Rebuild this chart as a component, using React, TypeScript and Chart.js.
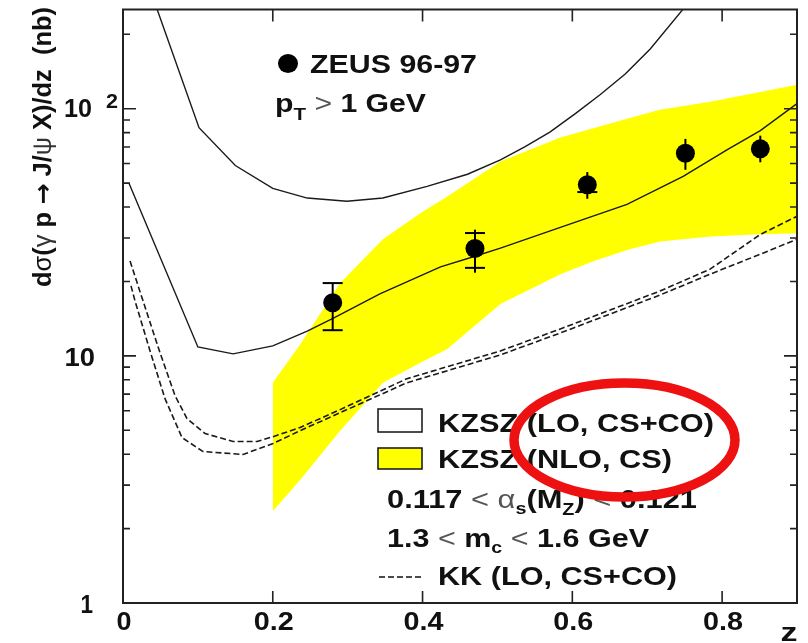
import React, { useEffect, useRef } from 'react';
import { Chart, registerables } from 'chart.js';
Chart.register(...registerables);

// ZEUS 96-97 data points
const zeusZ = [0.28, 0.47, 0.62, 0.751, 0.851];
const zeusXsec = [16.4, 27.2, 49.2, 66.0, 68.8];
const zeusErrUp = [19.7, 32.4, 55.4, 75.5, 77.8];
const zeusErrDown = [12.6, 21.7, 43.2, 56.6, 60.7];
const zeusCapUp: (number | null)[] = [19.7, 31.4, null, null, null];
const zeusCapDown: (number | null)[] = [12.7, 22.7, 46.0, null, null];

// KZSZ (LO, CS+CO) upper and lower curves
const kzszLoUpZ = [0.03, 0.046, 0.1015, 0.15, 0.2, 0.246, 0.299, 0.347, 0.406, 0.46, 0.504, 0.537, 0.57, 0.604, 0.637, 0.671, 0.704, 0.748, 0.771];
const kzszLoUpV = [343, 250, 83.8, 58.9, 47.6, 43.5, 42.2, 43.5, 48.5, 54.3, 62.1, 70.3, 80.4, 95.5, 113.9, 138.4, 174.5, 253, 310];
const kzszLoLowZ = [0.008, 0.1, 0.147, 0.2, 0.246, 0.281, 0.343, 0.424, 0.47, 0.504, 0.584, 0.673, 0.748, 0.807, 0.851, 0.9];
const kzszLoLowV = [49.9, 10.87, 10.19, 10.97, 12.6, 14.2, 17.8, 22.9, 25.3, 27.3, 33.1, 41.0, 53.2, 68.3, 81.5, 104.8];

// KK (LO, CS+CO) dashed curves
const kkUpZ = [0.0094, 0.0267, 0.0494, 0.0695, 0.0855, 0.1096, 0.147, 0.179, 0.2004, 0.2365, 0.29, 0.379, 0.504, 0.584, 0.717, 0.784, 0.851, 0.9];
const kkUpV = [24.2, 16.7, 10.3, 6.9, 5.57, 4.85, 4.5, 4.5, 4.71, 5.13, 6.06, 8.08, 10.47, 12.85, 18.29, 22.43, 31.0, 36.7];
const kkLowZ = [0.0107, 0.016, 0.0361, 0.0561, 0.0788, 0.1069, 0.1603, 0.2004, 0.2365, 0.29, 0.379, 0.504, 0.584, 0.717, 0.784, 0.851, 0.9];
const kkLowV = [19.2, 16.7, 10.47, 6.71, 4.67, 4.1, 3.99, 4.42, 4.98, 5.89, 7.78, 10.09, 12.38, 17.62, 21.41, 25.78, 29.64];

// KZSZ (NLO, CS) band
const bandZ = [0.2, 0.237, 0.29, 0.347, 0.397, 0.433, 0.504, 0.584, 0.628, 0.673, 0.717, 0.784, 0.851, 0.9];
const bandUpV = [7.78, 11.18, 19.7, 29.64, 37.72, 44.18, 61.13, 76.39, 83.37, 91.14, 99.1, 106.7, 116.9, 125.0];
const bandLowV = [2.35, 3.16, 4.98, 7.78, 9.37, 10.67, 16.2, 21.41, 24.16, 26.83, 29.0, 30.41, 31.04, 31.33];

// axes
const xTicks = [0, 0.2, 0.4, 0.6, 0.8];
const xTickLabels = ['0', '0.2', '0.4', '0.6', '0.8'];
const yMajor = [1, 10, 100];
const yMinor = [2, 3, 4, 5, 6, 7, 8, 9, 20, 30, 40, 50, 60, 70, 80, 90, 200];

const FONT = '"Liberation Sans", Arial, Helvetica, sans-serif';
const INK = '#111';

type Seg = { t: string; size: number; bold?: boolean; dy?: number; color?: string; family?: string };

function drawRich(ctx: CanvasRenderingContext2D, segs: Seg[], x: number, y: number, width?: number, align: 'left' | 'center' | 'right' = 'left') {
  ctx.save();
  ctx.textBaseline = 'alphabetic';
  ctx.textAlign = 'left';
  const fontOf = (s: Seg) => `${s.bold === false ? 'normal' : 'bold'} ${s.size}px ${s.family || FONT}`;
  const ws = segs.map(s => { ctx.font = fontOf(s); return ctx.measureText(s.t).width; });
  const total = ws.reduce((a, b) => a + b, 0);
  const sx = width ? width / total : 1;
  const w = total * sx;
  const x0 = align === 'left' ? x : align === 'center' ? x - w / 2 : x - w;
  ctx.translate(x0, y);
  ctx.scale(sx, 1);
  let cx = 0;
  segs.forEach((s, i) => {
    ctx.font = fontOf(s);
    ctx.fillStyle = s.color || INK;
    ctx.fillText(s.t, cx, s.dy || 0);
    cx += ws[i];
  });
  ctx.restore();
}

const pts = (z: number[], v: number[]) => z.map((x, i) => ({ x, y: v[i] }));

const overlay = {
  id: 'overlay',
  beforeDatasetDraw(chart: any, args: any) {
    if (args.index !== 0) return;
    const ctx: CanvasRenderingContext2D = chart.ctx;
    const xs = chart.scales.x, ys = chart.scales.y;
    ctx.save();
    ctx.strokeStyle = '#000';
    ctx.lineWidth = 2;
    zeusZ.forEach((z, i) => {
      const px = xs.getPixelForValue(z);
      ctx.beginPath();
      ctx.moveTo(px, ys.getPixelForValue(zeusErrUp[i]));
      ctx.lineTo(px, ys.getPixelForValue(zeusErrDown[i]));
      ctx.stroke();
      [zeusCapUp[i], zeusCapDown[i]].forEach(c => {
        if (c == null) return;
        const py = ys.getPixelForValue(c);
        ctx.beginPath();
        ctx.moveTo(px - 10, py);
        ctx.lineTo(px + 10, py);
        ctx.stroke();
      });
    });
    ctx.restore();
  },
  afterDatasetsDraw(chart: any) {
    const ctx: CanvasRenderingContext2D = chart.ctx;
    const { left, right, top, bottom } = chart.chartArea;
    const xs = chart.scales.x, ys = chart.scales.y;
    ctx.save();
    ctx.strokeStyle = '#222';
    ctx.lineWidth = 2;
    ctx.strokeRect(left, top, right - left, bottom - top);
    ctx.lineWidth = 1.6;
    ctx.beginPath();
    yMajor.forEach(v => {
      const py = ys.getPixelForValue(v);
      ctx.moveTo(left, py); ctx.lineTo(left + 13, py);
      ctx.moveTo(right, py); ctx.lineTo(right - 13, py);
    });
    yMinor.forEach(v => {
      const py = ys.getPixelForValue(v);
      ctx.moveTo(left, py); ctx.lineTo(left + 7, py);
      ctx.moveTo(right, py); ctx.lineTo(right - 7, py);
    });
    xTicks.forEach(v => {
      if (v === 0) return;
      const px = xs.getPixelForValue(v);
      ctx.moveTo(px, bottom); ctx.lineTo(px, bottom - 12);
      ctx.moveTo(px, top); ctx.lineTo(px, top + 12);
    });
    ctx.stroke();
    ctx.restore();
  },
  afterDraw(chart: any) {
    const ctx: CanvasRenderingContext2D = chart.ctx;
    const xs = chart.scales.x, ys = chart.scales.y;
    const { bottom } = chart.chartArea;
    // x tick labels
    xTicks.forEach((v, i) => {
      const px = xs.getPixelForValue(v);
      drawRich(ctx, [{ t: xTickLabels[i], size: 25 }], px + 1, bottom + 27, xTickLabels[i].length === 1 ? 15 : 40, 'center');
    });
    drawRich(ctx, [{ t: 'z', size: 26 }], 789, 641, 17, 'center');
    // y tick labels
    drawRich(ctx, [{ t: '1', size: 25 }], 93, ys.getPixelForValue(1) + 10, 12.5, 'right');
    drawRich(ctx, [{ t: '10', size: 25 }], 95, ys.getPixelForValue(10) + 10, 30.5, 'right');
    drawRich(ctx, [{ t: '10', size: 25 }], 92, ys.getPixelForValue(100) + 8, 28, 'right');
    drawRich(ctx, [{ t: '2', size: 20 }], 106, ys.getPixelForValue(100) - 1, 12, 'left');
    // y title
    ctx.save();
    ctx.translate(51, 287);
    ctx.rotate(-Math.PI / 2);
    drawRich(ctx, [
      { t: 'd', size: 25 }, { t: 'σ', size: 25, bold: false }, { t: '(', size: 25 },
      { t: 'γ', size: 25, bold: false, color: '#333' }, { t: ' p ', size: 25 },
      { t: '→', size: 25, family: '"DejaVu Sans", sans-serif' },
      { t: ' J/', size: 25 }, { t: 'ψ', size: 25, bold: false, color: '#333' }, { t: ' X)/dz  (nb)', size: 25 },
    ], 0, 0, 280);
    ctx.restore();
    // ZEUS legend
    ctx.save();
    ctx.fillStyle = '#000';
    ctx.beginPath();
    ctx.ellipse(288, 63.5, 10, 9.5, 0, 0, Math.PI * 2);
    ctx.fill();
    ctx.restore();
    drawRich(ctx, [{ t: 'ZEUS 96-97', size: 25 }], 310, 73, 167);
    drawRich(ctx, [
      { t: 'p', size: 25 }, { t: 'T', size: 17, dy: 8 }, { t: ' ', size: 25 },
      { t: '>', size: 25, bold: false, color: '#555' }, { t: ' 1 GeV', size: 25 },
    ], 275, 112, 151);
    // model legend
    ctx.save();
    ctx.lineWidth = 1.5;
    ctx.strokeStyle = '#111';
    ctx.fillStyle = '#fff';
    ctx.fillRect(378, 409, 44, 23);
    ctx.strokeRect(378, 409, 44, 23);
    ctx.fillStyle = '#ffff00';
    ctx.fillRect(378, 448, 44, 21);
    ctx.strokeRect(378, 448, 44, 21);
    ctx.lineWidth = 1.6;
    ctx.setLineDash([6, 3]);
    ctx.beginPath();
    ctx.moveTo(379, 577);
    ctx.lineTo(423, 577);
    ctx.stroke();
    ctx.restore();
    drawRich(ctx, [{ t: 'KZSZ (LO, CS+CO)', size: 26 }], 438, 431.5, 276);
    drawRich(ctx, [{ t: 'KZSZ (NLO, CS)', size: 26 }], 438, 467.5, 234);
    drawRich(ctx, [
      { t: '0.117 ', size: 25 }, { t: '<', size: 25, bold: false, color: '#555' }, { t: ' ', size: 25 },
      { t: 'α', size: 25, bold: false, color: '#555' }, { t: 's', size: 16, dy: 6 }, { t: '(M', size: 25 },
      { t: 'Z', size: 16, dy: 7 }, { t: ') ', size: 25 }, { t: '<', size: 25, bold: false, color: '#555' },
      { t: ' 0.121', size: 25 },
    ], 387, 507.5, 310);
    drawRich(ctx, [
      { t: '1.3 ', size: 25 }, { t: '<', size: 25, bold: false, color: '#555' }, { t: ' m', size: 25 },
      { t: 'c', size: 16, dy: 6 }, { t: ' ', size: 25 }, { t: '<', size: 25, bold: false, color: '#555' },
      { t: ' 1.6 GeV', size: 25 },
    ], 387, 547, 262);
    drawRich(ctx, [{ t: 'KK (LO, CS+CO)', size: 26 }], 438, 585, 239);
    // red annotation ellipse
    ctx.save();
    ctx.strokeStyle = '#ee1111';
    ctx.lineWidth = 9.5;
    ctx.beginPath();
    ctx.ellipse(624.5, 440, 110.5, 57, 0, 0, Math.PI * 2);
    ctx.stroke();
    ctx.restore();
  },
};

export default function App() {
  const ref = useRef<HTMLCanvasElement>(null);
  useEffect(() => {
    const line = { borderColor: '#1a1a1a', borderWidth: 1.4, pointRadius: 0, fill: false, tension: 0, order: 1 };
    const dashed = { ...line, borderWidth: 1.6, borderDash: [6, 3] };
    const chart = new Chart(ref.current!, {
      type: 'line',
      data: {
        datasets: [
          { label: 'ZEUS 96-97', data: pts(zeusZ, zeusXsec), showLine: false, pointRadius: 9.5, pointBackgroundColor: '#000', pointBorderColor: '#000', pointBorderWidth: 0, order: 0 } as any,
          { label: 'KZSZ LO upper', data: pts(kzszLoUpZ, kzszLoUpV), ...line } as any,
          { label: 'KZSZ LO lower', data: pts(kzszLoLowZ, kzszLoLowV), ...line } as any,
          { label: 'KK upper', data: pts(kkUpZ, kkUpV), ...dashed } as any,
          { label: 'KK lower', data: pts(kkLowZ, kkLowV), ...dashed } as any,
          { label: 'KZSZ NLO upper', data: pts(bandZ, bandUpV), borderWidth: 0, borderColor: 'rgba(0,0,0,0)', backgroundColor: '#ffff00', pointRadius: 0, fill: '+1', order: 2 } as any,
          { label: 'KZSZ NLO lower', data: pts(bandZ, bandLowV), borderWidth: 0, borderColor: 'rgba(0,0,0,0)', pointRadius: 0, fill: false, order: 2 } as any,
        ],
      },
      options: {
        animation: false,
        responsive: false,
        devicePixelRatio: 1,
        layout: { padding: { top: 7, right: 11, left: 0, bottom: 0 } },
        plugins: { legend: { display: false }, tooltip: { enabled: false } },
        scales: {
          x: {
            type: 'linear', min: 0, max: 0.9,
            ticks: { display: false }, grid: { display: false }, border: { display: false },
            afterFit: (s: any) => { s.height = 40; },
          },
          y: {
            type: 'logarithmic', min: 1, max: 252,
            ticks: { display: false }, grid: { display: false }, border: { display: false },
            afterFit: (s: any) => { s.width = 123; },
          },
        },
      } as any,
      plugins: [overlay],
    });
    return () => chart.destroy();
  }, []);
  return (
    <div style={{ position: 'absolute', left: 0, top: 0, width: 808, height: 643, background: '#fff' }}>
      <canvas ref={ref} width={808} height={643} style={{ display: 'block', width: 808, height: 643 }} />
    </div>
  );
}
